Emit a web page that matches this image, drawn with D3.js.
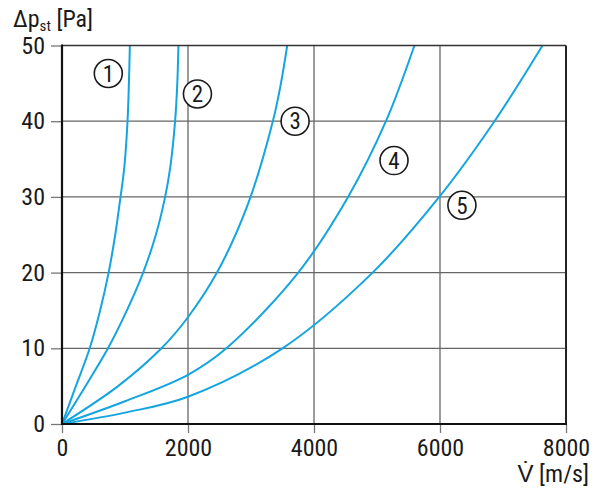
<!DOCTYPE html>
<html>
<head>
<meta charset="utf-8">
<script src="https://cdn.jsdelivr.net/npm/d3@7"></script>
<style>
  body { margin: 0; background: #fff; }
  svg text { font-family: "Liberation Sans Narrow", "Arial Narrow", "Roboto Condensed", sans-serif; fill: #1a1a1a; }
</style>
</head>
<body>
<div id="chart"></div>
<script>
// curves: [V in m/s, dp in Pa]
var curve1 = [[0, 0], [220, 5], [440, 10], [605, 15], [740, 20], [845, 25], [929, 30], [990, 34], [1040, 40], [1062, 45], [1077, 50]];
var curve2 = [[0, 0], [372, 5], [730, 10], [1030, 15], [1288, 20], [1490, 25], [1637, 30], [1720, 34], [1795, 40], [1830, 45], [1848, 50]];
var curve3 = [[0, 0], [890, 5], [1579, 10], [1990, 14], [2460, 20], [2950, 29], [3347, 40], [3475, 45], [3575, 50]];
var curve4 = [[0, 0], [1000, 3], [2000, 6.5], [2609, 10], [3750, 20], [4541, 30], [5142, 40], [5594, 50]];
var curve5 = [[0, 0], [1000, 1.5], [2000, 3.6], [3500, 10], [4930, 20], [5988, 30], [6865, 40], [7627, 50]];
var curves = [curve1, curve2, curve3, curve4, curve5];

var curveLabels = ["1", "2", "3", "4", "5"];
// label anchor in data units
var labelPos = [[735, 46.3], [2150, 43.6], [3700, 40.0], [5270, 34.8], [6348, 28.9]];

var xTicks = [0, 2000, 4000, 6000, 8000];
var yTicks = [0, 10, 20, 30, 40, 50];

var width = 600,
    height = 498;

var x = d3.scaleLinear().domain([0, 8000]).range([62, 566]);
var y = d3.scaleLinear().domain([0, 50]).range([424, 45.5]);

var svg = d3.select("#chart").append("svg")
    .attr("width", width)
    .attr("height", height);

// grid
svg.append("g").selectAll("line.gx")
    .data(xTicks.slice(1, -1))
    .enter().append("line")
    .attr("x1", function (d) { return x(d); })
    .attr("x2", function (d) { return x(d); })
    .attr("y1", y(50))
    .attr("y2", y(0))
    .attr("stroke", "#666")
    .attr("stroke-width", 1.3);

svg.append("g").selectAll("line.gy")
    .data(yTicks.slice(1, -1))
    .enter().append("line")
    .attr("x1", x(0))
    .attr("x2", x(8000))
    .attr("y1", function (d) { return y(d); })
    .attr("y2", function (d) { return y(d); })
    .attr("stroke", "#666")
    .attr("stroke-width", 1.3);

// axes
var xAxis = svg.append("g")
    .attr("transform", "translate(0," + y(0) + ")")
    .call(d3.axisBottom(x).tickValues(xTicks).tickSize(9).tickPadding(6).tickFormat(d3.format("d")));
var yAxis = svg.append("g")
    .attr("transform", "translate(" + x(0) + ",0)")
    .call(d3.axisLeft(y).tickValues(yTicks).tickSize(11).tickPadding(6));

[xAxis, yAxis].forEach(function (a) {
    a.select(".domain").remove();
    a.selectAll(".tick line").attr("stroke", "#777").attr("stroke-width", 1.3);
    a.selectAll(".tick text")
        .attr("font-size", 24)
        .attr("font-family", null)
        .attr("fill", "#1a1a1a");
});

// curves
var line = d3.line()
    .x(function (d) { return x(d[0]); })
    .y(function (d) { return y(d[1]); })
    .curve(d3.curveCatmullRom.alpha(0.5));

svg.append("g").selectAll("path")
    .data(curves)
    .enter().append("path")
    .attr("d", line)
    .attr("fill", "none")
    .attr("stroke", "#14a5e0")
    .attr("stroke-width", 2);

// frame
svg.append("line").attr("x1", x(0)).attr("x2", x(8000)).attr("y1", y(50)).attr("y2", y(50))
    .attr("stroke", "#333").attr("stroke-width", 1.6);
svg.append("line").attr("x1", x(8000)).attr("x2", x(8000)).attr("y1", y(50)).attr("y2", y(0))
    .attr("stroke", "#222").attr("stroke-width", 2);
svg.append("line").attr("x1", x(0)).attr("x2", x(0)).attr("y1", y(50) - 1).attr("y2", y(0) + 1)
    .attr("stroke", "#111").attr("stroke-width", 2.2);
svg.append("line").attr("x1", x(0) - 1).attr("x2", x(8000) + 1).attr("y1", y(0)).attr("y2", y(0))
    .attr("stroke", "#111").attr("stroke-width", 2.2);

// circled curve numbers
var marks = svg.append("g").selectAll("g")
    .data(curveLabels)
    .enter().append("g")
    .attr("transform", function (d, i) {
        return "translate(" + x(labelPos[i][0]) + "," + y(labelPos[i][1]) + ")";
    });
marks.append("circle")
    .attr("r", 14)
    .attr("fill", "#fff")
    .attr("stroke", "#1a1a1a")
    .attr("stroke-width", 1.6);
marks.append("text")
    .attr("text-anchor", "middle")
    .attr("dy", "0.36em")
    .attr("font-size", 23)
    .text(function (d) { return d; });

// axis titles
var yTitle = svg.append("text")
    .attr("x", 13)
    .attr("y", 27)
    .attr("font-size", 24);
yTitle.append("tspan").text("\u0394p");
yTitle.append("tspan").attr("font-size", 15).attr("dy", 4).text("st");
yTitle.append("tspan").attr("dy", -4).text(" [Pa]");

svg.append("text")
    .attr("x", 589)
    .attr("y", 482)
    .attr("text-anchor", "end")
    .attr("font-size", 24)
    .text("V\u0307 [m/s]");
</script>
</body>
</html>
